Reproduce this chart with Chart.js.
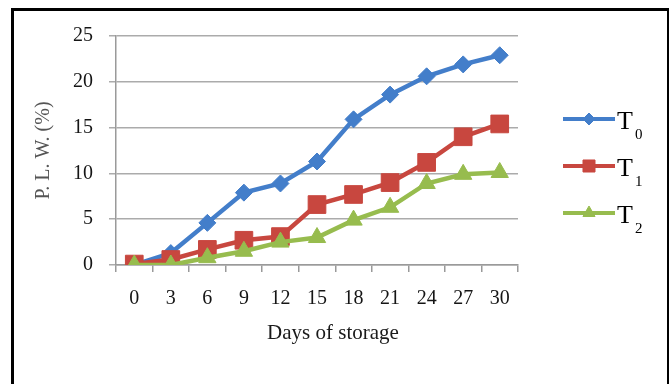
<!DOCTYPE html>
<html>
<head>
<meta charset="utf-8">
<script src="https://cdn.jsdelivr.net/npm/chart.js@4/dist/chart.umd.min.js"></script>
<style>
  html, body { margin: 0; padding: 0; background: #fff; }
  #wrap { position: relative; width: 670px; height: 384px; overflow: hidden; }
  #c { position: absolute; left: 0; top: 0; }
  #frame {
    position: absolute; left: 11px; top: 8px; width: 658px; height: 420px;
    box-sizing: border-box; border-left: 3px solid #000; border-top: 3px solid #000;
    border-right: 2px solid #000; pointer-events: none;
  }
</style>
</head>
<body>
<div id="wrap">
  <canvas id="c" width="670" height="384"></canvas>
  <div id="frame"></div>
</div>
<script>
// Days of storage (x categories)
const days = ['0', '3', '6', '9', '12', '15', '18', '21', '24', '27', '30'];
// Physiological loss in weight (%) per treatment
const t0 = [0, 1.3, 4.6, 7.9, 8.9, 11.3, 15.9, 18.6, 20.6, 21.9, 22.9];
const t1 = [0.1, 0.6, 1.7, 2.7, 3.1, 6.6, 7.7, 9.0, 11.2, 14.0, 15.4];
const t2 = [0, 0, 0.8, 1.5, 2.5, 3.0, 4.9, 6.3, 8.9, 9.9, 10.1];
const seriesLabels = ['T0', 'T1', 'T2'];
const yTicks = [0, 5, 10, 15, 20, 25];

const FONT = '"Liberation Serif", "Times New Roman", serif';

// Legend with subscripted treatment names, drawn beside the plot
const subLegend = {
  id: 'subLegend',
  afterDraw(chart) {
    const ctx = chart.ctx;
    const area = chart.chartArea;
    const x0 = area.right + 45, x1 = area.right + 97;
    chart.data.datasets.forEach((ds, i) => {
      const y = 119 + i * 47;
      ctx.save();
      ctx.strokeStyle = ds.borderColor;
      ctx.lineWidth = 4;
      ctx.beginPath();
      ctx.moveTo(x0, y);
      ctx.lineTo(x1, y);
      ctx.stroke();
      ctx.fillStyle = ds.backgroundColor;
      ctx.strokeStyle = ds.backgroundColor;
      ctx.lineWidth = 1;
      Chart.helpers.drawPoint(ctx, { pointStyle: ds.pointStyle, radius: ds.legendRadius, borderWidth: 1 }, (x0 + x1) / 2, y);
      const label = ds.label;
      ctx.fillStyle = '#000';
      ctx.textBaseline = 'alphabetic';
      ctx.textAlign = 'left';
      ctx.font = '26px ' + FONT;
      const main = label.slice(0, 1);
      ctx.fillText(main, x1 + 2, y + 10);
      const w = ctx.measureText(main).width;
      ctx.font = '15px ' + FONT;
      ctx.fillText(label.slice(1), x1 + 2 + w + 2, y + 20);
      ctx.restore();
    });
  }
};

// X axis caption
const xCaption = {
  id: 'xCaption',
  afterDraw(chart) {
    const ctx = chart.ctx;
    const area = chart.chartArea;
    ctx.save();
    ctx.fillStyle = '#1a1a1a';
    ctx.font = '21px ' + FONT;
    ctx.textAlign = 'center';
    ctx.textBaseline = 'middle';
    ctx.fillText('Days of storage', (area.left + area.right) / 2 + 16, area.bottom + 68);
    ctx.restore();
  }
};

new Chart(document.getElementById('c'), {
  type: 'line',
  data: {
    labels: days,
    datasets: [
      { label: seriesLabels[0], data: t0, borderColor: '#437ECA', backgroundColor: '#437ECA',
        pointStyle: 'rectRot', pointRadius: 8.5, legendRadius: 6, order: 2 },
      { label: seriesLabels[1], data: t1, borderColor: '#C8473F', backgroundColor: '#C8473F',
        pointStyle: 'rect', pointRadius: 12.5, legendRadius: 8.5, order: 1 },
      { label: seriesLabels[2], data: t2, borderColor: '#97BC4E', backgroundColor: '#97BC4E',
        pointStyle: 'triangle', pointRadius: 10, legendRadius: 7, order: 0 }
    ].map(d => Object.assign({ borderWidth: 4.5, pointBorderWidth: 1, tension: 0, fill: false }, d))
  },
  options: {
    responsive: false,
    animation: false,
    events: [],
    layout: { padding: { left: 0, right: 152, top: 36, bottom: 0 } },
    plugins: { legend: { display: false }, tooltip: { enabled: false } },
    scales: {
      x: {
        type: 'category',
        offset: true,
        grid: { display: true, drawOnChartArea: false, drawTicks: true, tickLength: 7, offset: true,
                color: '#9a9a9a', lineWidth: 1.5 },
        border: { display: true, color: '#9a9a9a', width: 1.5 },
        ticks: { color: '#151515', font: { family: FONT, size: 20 }, padding: 15, maxRotation: 0, autoSkip: false },
        afterFit(scale) { scale.height = 119; }
      },
      y: {
        min: 0, max: 25,
        afterBuildTicks(scale) { scale.ticks = yTicks.map(v => ({ value: v })); },
        grid: { color: '#ababab', lineWidth: 1.5, tickLength: 7, drawTicks: true },
        border: { display: true, color: '#9a9a9a', width: 1.5 },
        ticks: { color: '#151515', font: { family: FONT, size: 20 }, padding: 16 },
        title: { display: true, text: 'P. L. W. (%)', color: '#555', font: { family: FONT, size: 20 },
                 padding: { top: 32, bottom: 0 } },
        afterFit(scale) { scale.width = 116; }
      }
    }
  },
  plugins: [subLegend, xCaption]
});
</script>
</body>
</html>
